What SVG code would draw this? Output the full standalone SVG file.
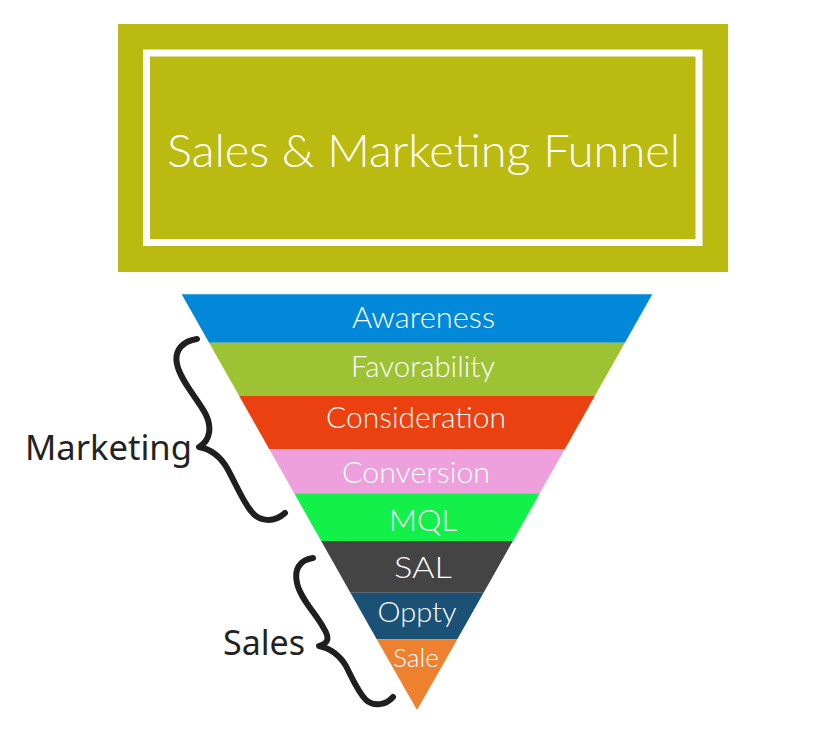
<svg xmlns="http://www.w3.org/2000/svg" width="828" height="736" viewBox="0 0 828 736">
<style>
.lbl{font-family:Lato,"Open Sans","Liberation Sans",sans-serif;font-weight:300;fill:#ffffff;text-anchor:middle}
.side{font-family:"Noto Sans","Open Sans","Liberation Sans",sans-serif;font-weight:400;fill:#222222}
.brace{fill:none;stroke:#1f1f1f;stroke-width:6;stroke-linecap:round;stroke-linejoin:round}
</style>
<rect x="0" y="0" width="828" height="736" fill="#ffffff"/>
<g id="title">
<rect x="118" y="24" width="610" height="248" fill="#bbba10"/>
<rect x="146.5" y="53" width="552.5" height="189.5" fill="none" stroke="#ffffff" stroke-width="7"/>
<text x="423.5" y="167" font-family="Lato,'Open Sans','Liberation Sans',sans-serif" font-weight="300" font-size="46" fill="#ffffff" text-anchor="middle" textLength="513" lengthAdjust="spacingAndGlyphs">Sales &amp; Marketing Funnel</text>
</g>
<g id="awareness">
<polygon points="181.7,294.3 652.3,294.3 624.9,342.7 209.1,342.7" fill="#0288d9"/>
<text class="lbl" x="423.5" y="328" font-size="29" textLength="143" lengthAdjust="spacingAndGlyphs">Awareness</text>
</g>
<g id="favorability">
<polygon points="209.1,342.7 624.9,342.7 594.8,396 239.2,396" fill="#9dc234"/>
<text class="lbl" x="423" y="377" font-size="29" textLength="144" lengthAdjust="spacingAndGlyphs">Favorability</text>
</g>
<g id="consideration">
<polygon points="239.2,396 594.8,396 564.7,449.3 269.3,449.3" fill="#eb4110"/>
<text class="lbl" x="416" y="428" font-size="29" textLength="180" lengthAdjust="spacingAndGlyphs">Consideration</text>
</g>
<g id="conversion">
<polygon points="269.3,449.3 564.7,449.3 539.8,493.3 294.2,493.3" fill="#eda0dc"/>
<text class="lbl" x="416" y="483" font-size="29" textLength="148" lengthAdjust="spacingAndGlyphs">Conversion</text>
</g>
<g id="mql">
<polygon points="294.2,493.3 539.8,493.3 512.8,541 321.2,541" fill="#14f04a"/>
<text class="lbl" x="423" y="531" font-size="30" textLength="68" lengthAdjust="spacingAndGlyphs">MQL</text>
</g>
<g id="sal">
<polygon points="321.2,541 512.8,541 483.6,592.7 350.4,592.7" fill="#444444"/>
<text class="lbl" x="423" y="578" font-size="30" textLength="58" lengthAdjust="spacingAndGlyphs">SAL</text>
</g>
<g id="oppty">
<polygon points="350.4,592.7 483.6,592.7 457.3,639.3 376.7,639.3" fill="#1c5176"/>
<text class="lbl" x="417" y="622" font-size="28" textLength="79" lengthAdjust="spacingAndGlyphs">Oppty</text>
</g>
<g id="sale">
<polygon points="376.7,639.3 457.3,639.3 417,710" fill="#ee8130"/>
<text class="lbl" x="416" y="667" font-size="25" textLength="46" lengthAdjust="spacingAndGlyphs">Sale</text>
</g>
<g id="marketing">
<text class="side" x="25" y="460" font-size="34" textLength="167" lengthAdjust="spacingAndGlyphs">Marketing</text>
<path class="brace" d="M 197,339 C 183,341 174,350 177,364 C 180,380 197,398 205,413 C 212,426 211,440 199,447 C 210,449 220,456 227,468 C 236,484 242,500 251,511 C 259,522 274,523 285,513"/>
</g>
<g id="sales">
<text class="side" x="223" y="655" font-size="35" textLength="82" lengthAdjust="spacingAndGlyphs">Sales</text>
<path class="brace" d="M 313,558 C 299,560 294,570 297,583 C 300,598 316,614 323,627 C 330,638 329,643 319,646 C 330,648 340,656 346,666 C 353,680 358,692 366,700 C 374,707 386,705 393,697"/>
</g>
</svg>
